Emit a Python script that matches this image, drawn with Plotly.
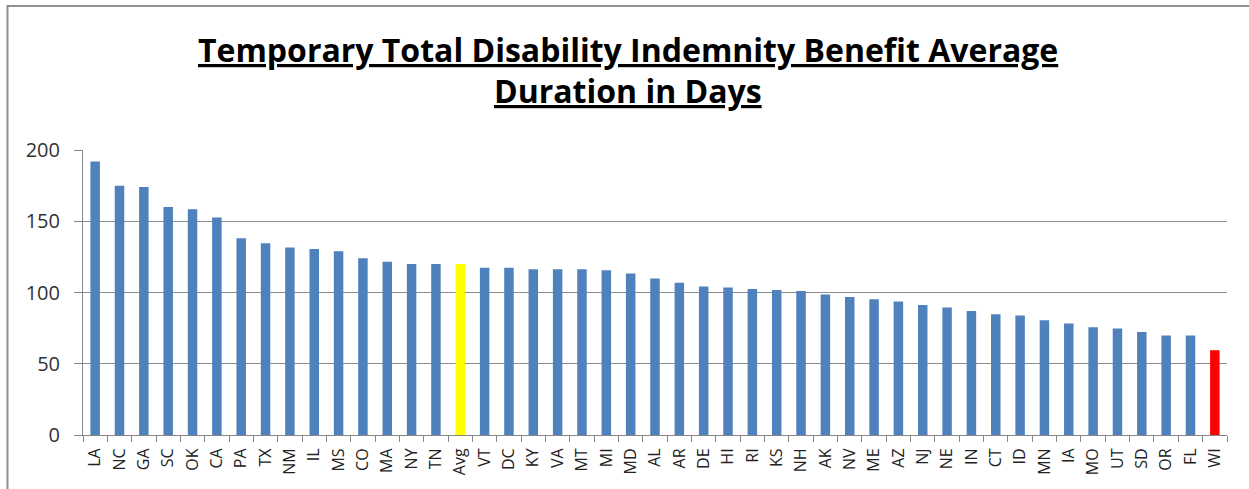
import plotly.graph_objects as go

states = ["LA", "NC", "GA", "SC", "OK", "CA", "PA", "TX", "NM", "IL", "MS", "CO", "MA", "NY", "TN", "Avg",
          "VT", "DC", "KY", "VA", "MT", "MI", "MD", "AL", "AR", "DE", "HI", "RI", "KS", "NH", "AK", "NV",
          "ME", "AZ", "NJ", "NE", "IN", "CT", "ID", "MN", "IA", "MO", "UT", "SD", "OR", "FL", "WI"]
days = [192, 175, 174, 160, 158.5, 152.7, 138, 134.6, 131.6, 130.6, 129, 124, 121.5, 120, 120, 120,
        117.3, 117.3, 116.4, 116.4, 116.4, 115.7, 113.3, 109.8, 106.8, 104.2, 103.5, 102.5, 101.8, 101.1, 98.6, 96.8,
        95.3, 93.7, 91.3, 89.5, 87.1, 84.7, 83.8, 80.5, 78.2, 75.6, 74.7, 72.3, 69.8, 69.8, 59.5]
title_lines = ["Temporary Total Disability Indemnity Benefit Average", "Duration in Days"]
y_ticks = [0, 50, 100, 150, 200]

colors = ["#FFFF00" if s == "Avg" else "#FF0000" if s == "WI" else "#4F81BD" for s in states]

FONT = "Open Sans, Liberation Sans, Arial, sans-serif"

fig = go.Figure(go.Bar(x=states, y=days, marker=dict(color=colors, line=dict(width=0))))

fig.update_layout(
    width=1249, height=489,
    margin=dict(l=83, r=22, t=150, b=54),
    paper_bgcolor="white", plot_bgcolor="white",
    bargap=0.61,
    showlegend=False,
    font=dict(family=FONT, color="#222"),
)
fig.update_xaxes(
    type="category", tickangle=-90, tickson="boundaries",
    ticks="outside", ticklen=6, tickcolor="#868686",
    showline=True, linecolor="#868686", linewidth=1,
    tickfont=dict(family=FONT, size=16, color="#222"),
    ticklabelstandoff=6,
    showgrid=False,
)
fig.update_yaxes(
    range=[0, 200], tickvals=y_ticks,
    ticks="outside", ticklen=8, tickcolor="#868686",
    showline=True, linecolor="#868686", linewidth=1,
    showgrid=True, gridcolor="#8c8c8c", gridwidth=1,
    zeroline=False,
    tickfont=dict(family=FONT, size=20, color="#333"),
    ticklabelstandoff=10,
)
for txt, yy in zip(title_lines, [1.354, 1.2105]):
    fig.add_annotation(text="<b><u>" + txt + "</u></b>", xref="paper", yref="paper",
                       x=0.4768, y=yy, xanchor="center", yanchor="middle", showarrow=False,
                       font=dict(family=FONT, size=32, color="black"))
fig.add_shape(type="rect", xref="paper", yref="paper", x0=-0.066, x1=1.0245, y0=-0.21, y1=1.505,
              line=dict(color="#909090", width=2), fillcolor="rgba(0,0,0,0)", layer="below")

fig.write_html("out.html", config={"displayModeBar": False},
               post_script="document.body.style.margin='0';document.body.style.padding='0';document.body.style.overflow='hidden';")
